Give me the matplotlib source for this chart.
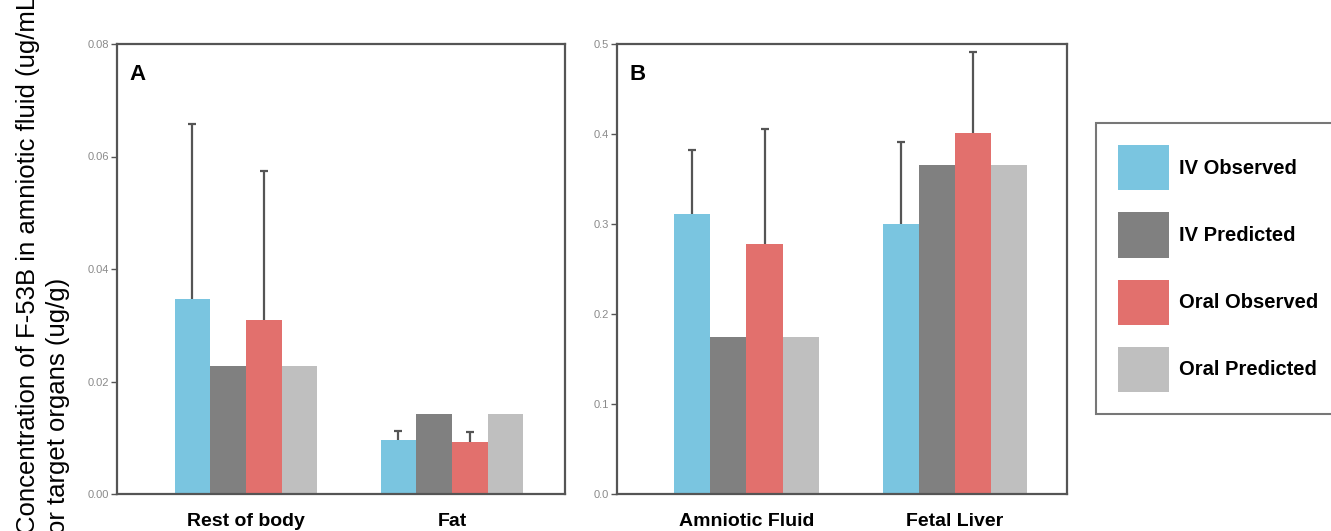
import matplotlib
matplotlib.use("Agg")
import matplotlib.pyplot as plt
from matplotlib.patches import Patch
import numpy as np

plt.rcParams["font.family"] = ["Liberation Sans", "DejaVu Sans"]

series = ["IV Observed", "IV Predicted", "Oral Observed", "Oral Predicted"]
colors = ["#7AC5E0", "#808080", "#E2706D", "#BFBFBF"]

# panel A
cats_a = ["Rest of body", "Fat"]
iv_obs_a = [0.0347, 0.0096]
iv_obs_a_top = [0.0657, 0.0112]
iv_pred_a = [0.0228, 0.0142]
oral_obs_a = [0.0309, 0.0092]
oral_obs_a_top = [0.0575, 0.0110]
oral_pred_a = [0.0228, 0.0142]

# panel B
cats_b = ["Amniotic Fluid", "Fetal Liver"]
iv_obs_b = [0.311, 0.300]
iv_obs_b_top = [0.382, 0.391]
iv_pred_b = [0.175, 0.366]
oral_obs_b = [0.278, 0.401]
oral_obs_b_top = [0.406, 0.491]
oral_pred_b = [0.175, 0.366]

fig = plt.figure(figsize=(13.31, 5.31), dpi=100)
ax_a = fig.add_axes([117 / 1331, 37 / 531, 448 / 1331, 450 / 531])
ax_b = fig.add_axes([617 / 1331, 37 / 531, 450 / 1331, 450 / 531])

edge = "#555555"
w = 0.173


def draw_panel(ax, cats, vals, tops, ylim, yticks, fmt, xlim, letter):
    x = np.arange(len(cats))
    for i, (v, c) in enumerate(zip(vals, colors)):
        pos = x + (i - 1.5) * w
        ax.bar(pos, v, width=w, color=c, zorder=2)
        if tops[i] is not None:
            err = np.array(tops[i]) - np.array(v)
            eb = ax.errorbar(pos, v, yerr=[np.zeros(len(v)), err], fmt="none",
                             ecolor=edge, elinewidth=1.6, capsize=3,
                             capthick=1.6, zorder=3)
            eb[1][0].set_visible(False)  # only the upper cap
    ax.set_xlim(*xlim)
    ax.set_ylim(*ylim)
    ax.set_yticks(yticks)
    ax.set_yticklabels([fmt.format(t) for t in yticks])
    ax.set_xticks(x)
    ax.set_xticklabels(cats, fontsize=14, fontweight="bold")
    ax.tick_params(axis="x", length=0, pad=14)
    ax.tick_params(axis="y", length=4, width=1, color=edge, labelsize=8,
                   labelcolor="#8a8a8a", pad=2)
    for s in ax.spines.values():
        s.set_color(edge)
        s.set_linewidth(1.6)
    ax.text(0.028, 0.955, letter, transform=ax.transAxes, fontsize=16,
            fontweight="bold", va="top", ha="left")


draw_panel(ax_a, cats_a,
           [iv_obs_a, iv_pred_a, oral_obs_a, oral_pred_a],
           [iv_obs_a_top, None, oral_obs_a_top, None],
           (0, 0.08), [0, 0.02, 0.04, 0.06, 0.08], "{:.2f}",
           (-0.626, 1.549), "A")
draw_panel(ax_b, cats_b,
           [iv_obs_b, iv_pred_b, oral_obs_b, oral_pred_b],
           [iv_obs_b_top, None, oral_obs_b_top, None],
           (0, 0.5), [0, 0.1, 0.2, 0.3, 0.4, 0.5], "{:.1f}",
           (-0.621, 1.537), "B")

fig.text(0.012, -0.006,
         "Concentration of F-53B in amniotic fluid (ug/mL)\nor target organs (ug/g)",
         rotation=90, ha="left", va="bottom", multialignment="left",
         fontsize=18.5, linespacing=1.3)

handles = [Patch(facecolor=c, edgecolor="none") for c in colors]
leg = fig.legend(handles, series, loc="upper left",
                 bbox_to_anchor=(1096 / 1331, 1 - 123 / 531),
                 borderaxespad=0, prop={"weight": "bold", "size": 14.5},
                 handlelength=2.5, handleheight=3.07, labelspacing=1.1,
                 handletextpad=0.5, borderpad=1.1, fancybox=False,
                 frameon=True)
leg.get_frame().set_edgecolor(edge)
leg.get_frame().set_linewidth(1.5)

fig.savefig("out.png", dpi=100)
